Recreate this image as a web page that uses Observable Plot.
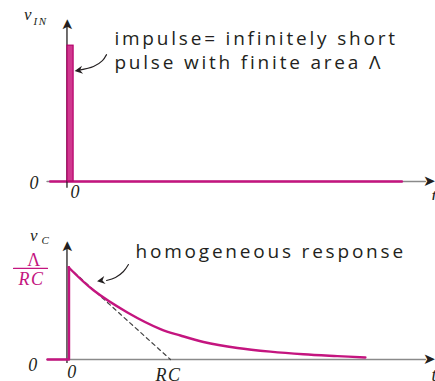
<!DOCTYPE html>
<html>
<head>
<meta charset="utf-8">
<script src="https://cdn.jsdelivr.net/npm/d3@7"></script>
<script src="https://cdn.jsdelivr.net/npm/@observablehq/plot@0.6"></script>
<style>
  body { margin: 0; background: #fff; }
  #chart g[font-family^="Open Sans"] text { letter-spacing: 2.8px; }
  #chart g[font-family^="Liberation Serif"] text { letter-spacing: 1.5px; }
</style>
</head>
<body>
<div id="chart"></div>
<script>
// Time is measured in units of RC; voltages are normalised to the pulse / peak height.

// Input: impulse of finite area
const impulseT = [-0.01, 0.05];          // pulse left/right edge
const impulseV = 1;                       // drawn height of the pulse
const inputBaseT = [-0.18, 3.27];         // zero level of v_IN

// Capacitor voltage: zero until t = 0, jump to Λ/RC, then decay
const riseT = [-0.206, 0.005, 0.005];
const riseV = [0, 0, 1];
const decayT = [0, 0.245, 0.578, 0.902, 1.098, 1.324, 1.657, 1.98, 2.304, 2.637, 2.912];
const decayV = [1, 0.75, 0.51, 0.33, 0.26, 0.19, 0.125, 0.085, 0.057, 0.037, 0.022];
const tangentT = [0, 1];
const tangentV = [1, 0];

// Text
const inputNote = ["impulse= infinitely short", "pulse with finite area Λ"];
const responseNote = "homogeneous response";
const zeroLabel = "0";
const rcLabel = "RC";
const timeLabel = "t";
const peakNum = "Λ";
const peakDen = "RC";
const headGlyph = "➤";

const magenta = "#c4157f";
const ink = "#231f20";
const axisGray = "#8a8a8a";
const serif = "Liberation Serif, DejaVu Serif, serif";
const sans = "Open Sans, Lato, sans-serif";

const pts = (ts, vs) => ts.map((t, i) => ({t, v: vs[i]}));

// Small notched arrowhead for the annotation pointers, tip at the origin, pointing up
const smallHead = {
  draw(ctx) {
    ctx.moveTo(0, 0);
    ctx.lineTo(4, 8);
    ctx.lineTo(0, 5.5);
    ctx.lineTo(-4, 8);
    ctx.closePath();
  }
};

// Horizontal time axis (drawn beneath the traces)
const timeAxis = () =>
  Plot.line(pts([-0.21, 3.5], [0, 0]), {x: "t", y: "v", stroke: axisGray, strokeWidth: 1.6});

// Vertical axis and the two axis arrowheads
function axisArrows(yTop, yBottom) {
  return [
    Plot.ruleX([-0.015], {y1: yBottom, y2: yTop - 0.04, stroke: ink, strokeWidth: 1.3}),
    Plot.text([{t: -0.015, v: yTop}], {x: "t", y: "v", text: () => headGlyph, rotate: -90, textAnchor: "end", fontFamily: "DejaVu Sans", fontSize: 15, fill: ink}),
    Plot.text([{t: 3.6, v: 0}], {x: "t", y: "v", text: () => headGlyph, textAnchor: "end", fontFamily: "DejaVu Sans", fontSize: 15, fill: ink})
  ];
}

function serifText(text, t, v, opts = {}) {
  return Plot.text([{t, v}], {x: "t", y: "v", text: () => text, fontFamily: serif, fontStyle: "italic", fontSize: 18, fill: ink, ...opts});
}

// ---- v_IN panel ----
const inputPanel = Plot.plot({
  width: 435, height: 200,
  marginLeft: 68, marginRight: 2, marginTop: 18, marginBottom: 19,
  x: {domain: [0, 3.58], axis: null},
  y: {domain: [0, 1.2], axis: null},
  marks: [
    timeAxis(),
    Plot.line(pts(inputBaseT, [0, 0]), {x: "t", y: "v", stroke: magenta, strokeWidth: 2.4}),
    serifText(zeroLabel, -0.33, 0, {dy: 2}),
    serifText(zeroLabel, 0.07, 0, {dy: 11}),
    serifText(timeLabel, 3.56, 0, {dy: 15, textAnchor: "start"}),
    serifText("v", -0.392, 1.228, {fontSize: 17}),
    serifText("IN", -0.343, 1.18, {fontSize: 11, textAnchor: "start"}),
    Plot.line(pts([0.373, 0.333, 0.245, 0.108], [0.934, 0.89, 0.846, 0.82]), {x: "t", y: "v", curve: "catmull-rom", stroke: ink, strokeWidth: 1.1}),
    Plot.dot([{t: 0.06, v: 0.814}], {x: "t", y: "v", symbol: smallHead, rotate: -98, fill: ink, stroke: "none"}),
    Plot.text([inputNote[0]], {x: 0.45, y: 1.052, text: d => d, textAnchor: "start", fontFamily: sans, fontSize: 19, fill: ink}),
    Plot.text([inputNote[1]], {x: 0.45, y: 0.875, text: d => d, textAnchor: "start", fontFamily: sans, fontSize: 19, fill: ink}),
    ...axisArrows(1.2, -0.05),
    Plot.rect([{t1: impulseT[0], t2: impulseT[1], v: impulseV}], {x1: "t1", x2: "t2", y1: 0, y2: "v", fill: "#d0388f", stroke: "#b5006b", strokeWidth: 1.2})
  ]
});

// ---- v_C panel ----
const responsePanel = Plot.plot({
  width: 435, height: 181,
  marginLeft: 68, marginRight: 2, marginTop: 40, marginBottom: 22,
  x: {domain: [0, 3.58], axis: null},
  y: {domain: [0, 1.29], axis: null},
  marks: [
    timeAxis(),
    Plot.line(pts(tangentT, tangentV), {x: "t", y: "v", stroke: "#444", strokeWidth: 1.2, strokeDasharray: "4,3.5"}),
    serifText(zeroLabel, -0.343, -0.065),
    serifText(zeroLabel, 0.04, -0.14),
    serifText(rcLabel, 0.98, -0.175),
    serifText(timeLabel, 3.56, -0.17, {textAnchor: "start"}),
    serifText("v", -0.333, 1.345, {fontSize: 17}),
    serifText("C", -0.265, 1.29, {fontSize: 11, textAnchor: "start"}),
    Plot.text([peakNum], {x: -0.333, y: 1.074, text: d => d, fontFamily: serif, fontSize: 18, fill: magenta}),
    Plot.line(pts([-0.539, -0.206], [0.987, 0.987]), {x: "t", y: "v", stroke: magenta, strokeWidth: 1.2}),
    serifText(peakDen, -0.363, 0.868, {fill: magenta, fontSize: 18}),
    Plot.line(pts([0.588, 0.539, 0.461, 0.373], [1.03, 0.954, 0.889, 0.857]), {x: "t", y: "v", curve: "catmull-rom", stroke: ink, strokeWidth: 1.1}),
    Plot.dot([{t: 0.28, v: 0.847}], {x: "t", y: "v", symbol: smallHead, rotate: -100, fill: ink, stroke: "none"}),
    Plot.text([responseNote], {x: 0.657, y: 1.166, text: d => d, textAnchor: "start", fontFamily: sans, fontSize: 19, fill: ink}),
    ...axisArrows(1.29, -0.043),
    Plot.line(pts(riseT, riseV), {x: "t", y: "v", stroke: magenta, strokeWidth: 2.4}),
    Plot.line(pts(decayT, decayV), {x: "t", y: "v", curve: "catmull-rom", stroke: magenta, strokeWidth: 2.4})
  ]
});

document.getElementById("chart").append(inputPanel, responsePanel);
</script>
</body>
</html>
